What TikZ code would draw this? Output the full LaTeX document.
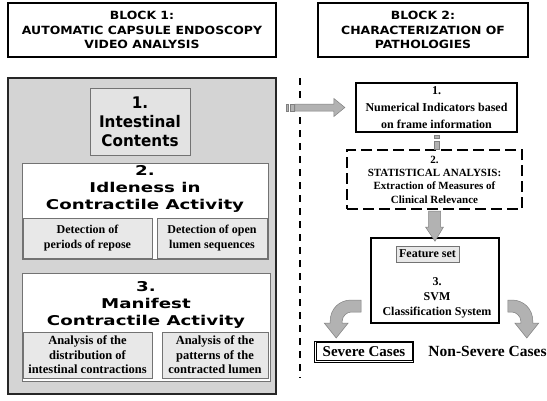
\documentclass[tikz,border=0pt]{standalone}
\usepackage{fontspec}
\setmainfont{Liberation Serif}
\newfontfamily\headfont{DejaVu Sans}[FakeStretch=1.1]
\newfontfamily\titlefont{DejaVu Sans}[FakeStretch=1.35]
\newfontfamily\contfont{DejaVu Sans}[FakeStretch=0.95]
\usetikzlibrary{calc,positioning}

\begin{document}
\begin{tikzpicture}[x=1pt, y=-1pt,
    headbox/.style={draw, line width=1.3pt, fill=white, inner sep=0pt,
        minimum height=54pt, align=center,
        font=\headfont\bfseries\fontsize{11.3}{14.5}\selectfont},
    blockbg/.style={draw=black!85, line width=1.8pt, fill=black!17, inner sep=0pt},
    whitebox/.style={draw=black!55, line width=0.6pt, fill=white, inner sep=0pt},
    graybox/.style={draw=black!55, line width=0.6pt, fill=black!9, inner sep=0pt,
        align=center, font=\bfseries\fontsize{12}{15}\selectfont},
    bigtitle/.style={align=center, inner sep=0pt,
        font=\titlefont\bfseries\fontsize{13.5}{17}\selectfont},
    stepbox/.style={draw, fill=white, inner sep=0pt, align=center,
        font=\bfseries\fontsize{12}{17}\selectfont},
    garrow/.style={draw=black!50, fill=black!30, line width=0.5pt},
]
    \fill[white] (0,0) rectangle (547,400);
    \useasboundingbox (0,0) rectangle (547,400);

    % headers
    \node[headbox, minimum width=268pt] (headA) at (142,30)
        {BLOCK 1:\\AUTOMATIC CAPSULE ENDOSCOPY\\VIDEO ANALYSIS};
    \node[headbox, minimum width=210pt] (headB) at (423,30)
        {BLOCK 2:\\CHARACTERIZATION OF\\PATHOLOGIES};

    % block 1
    \node[blockbg, minimum width=268pt, minimum height=316pt] (blockA) at (142,236) {};
    \node[graybox, fill=black!11, minimum width=100pt, minimum height=67pt,
        font=\contfont\bfseries\fontsize{16}{19}\selectfont] (intest) at (140,121.5)
        {1.\\Intestinal\\Contents};

    \node[whitebox, minimum width=246pt, minimum height=96pt] (idle) at (145,211) {};
    \node[bigtitle] (idleT) at ($(idle.north)+(0,26)$) {2.\\Idleness in\\Contractile Activity};
    \node[graybox, minimum width=129pt, minimum height=40pt] (repose) at (87.5,238)
        {Detection of\\periods of repose};
    \node[graybox, minimum width=110pt, minimum height=40pt] (lumen) at (212,238)
        {Detection of open\\lumen sequences};

    \node[whitebox, minimum width=248pt, minimum height=108pt] (manif) at (146,327) {};
    \node[bigtitle] (manifT) at ($(manif.north)+(0,32)$) {3.\\Manifest\\Contractile Activity};
    \node[graybox, minimum width=129pt, minimum height=46pt,
        font=\bfseries\fontsize{12.5}{14.5}\selectfont] (distr) at (87.5,355)
        {Analysis of the\\distribution of\\intestinal contractions};
    \node[graybox, minimum width=106pt, minimum height=46pt,
        font=\bfseries\fontsize{12.5}{14.5}\selectfont] (patt) at (215,355)
        {Analysis of the\\patterns of the\\contracted lumen};

    % separator
    \draw[line width=1.5pt, dash pattern=on 7pt off 6pt] (300,78) -- (300,378);

    % block 2
    \node[stepbox, line width=1.2pt, minimum width=161pt, minimum height=49pt] (numind)
        at (436.5,107.5) {1.\\Numerical Indicators based\\on frame information};
    \node[stepbox, line width=2pt, dash pattern=on 11pt off 5pt, minimum width=175pt,
        minimum height=59pt, font=\bfseries\fontsize{11}{13.3}\selectfont] (stat)
        at (434.5,179.5) {2.\\STATISTICAL ANALYSIS:\\Extraction of Measures of\\Clinical Relevance};
    \node[stepbox, line width=1.6pt, minimum width=128pt, minimum height=85pt] (svm)
        at (435,280.5) {};
    \node[graybox, minimum width=63pt, minimum height=16pt] (feat) at (427.5,254) {Feature set};
    \node[align=center, inner sep=0pt, font=\bfseries\fontsize{12}{15}\selectfont] (svmT)
        at (437,298) {3.\\SVM\\Classification System};

    \node[draw, line width=0.8pt, minimum width=99pt, minimum height=21pt, inner sep=0pt,
        font=\bfseries\fontsize{15}{17}\selectfont] (severe) at (364,351.5) {Severe Cases};
    \draw[line width=0.8pt] ([shift={(2,2)}]severe.north west)
        rectangle ([shift={(-2,-2)}]severe.south east);
    \node[inner sep=0pt, font=\bfseries\fontsize{15.5}{17}\selectfont] (nonsev)
        at (487.5,351) {Non-Severe Cases};

    % arrow block 1 -> block 2
    \coordinate (arA) at ($(blockA.east |- numind.west)+(9,0)$);
    \draw[garrow] ($(arA)+(0,-3.5)$) rectangle ++(2,7);
    \draw[garrow] ($(arA)+(4,-3.5)$) rectangle ++(4,7);
    \draw[garrow] ($(arA)+(9,-3.5)$) -- ++(39,0) -- ++(0,-5.5) -- ++(11,9)
        -- ++(-11,9) -- ++(0,-5.5) -- ++(-39,0) -- cycle;

    % 1 -> 2
    \coordinate (ds) at ($(numind.south)+(0,3)$);
    \draw[garrow] ($(ds)+(-2.5,0)$) rectangle ++(5,3);
    \draw[garrow] ($(ds)+(-2.5,6)$) rectangle ++(5,8);

    % 2 -> 3
    \draw[garrow] ($(stat.south)+(-6,1)$) -- ++(0,16) -- ++(-3,0) -- ($(svm.north)+(0,4)$)
        -- ($(stat.south)+(9,17)$) -- ++(-3,0) -- ++(0,-16) -- cycle;

    % 3 -> severe / non-severe
    \coordinate (cl) at ($(svm.west)+(-9,19.5)$);
    \draw[garrow] (cl) -- ++(-10,0) coordinate (c1) .. controls +(-12,0) and +(0,-12) ..
        ($(c1)+(-21,21)$) -- ++(0,2) -- ++(-6,0) -- ++(12,15) -- ++(12,-15) -- ++(-6,0)
        -- ++(0,-2) .. controls +(0,-5) and +(-4,0) .. ($(cl)+(-10,12)$)
        -- ($(cl)+(0,12)$) -- cycle;
    \coordinate (cr) at ($(svm.east)+(8,19.5)$);
    \draw[garrow] (cr) -- ++(4,0) coordinate (c2) .. controls +(12,0) and +(0,-12) ..
        ($(c2)+(21,21)$) -- ++(0,2) -- ++(6,0) -- ++(-12,15) -- ++(-12,-15) -- ++(6,0)
        -- ++(0,-2) .. controls +(0,-5) and +(4,0) .. ($(cr)+(4,12)$)
        -- ($(cr)+(0,12)$) -- cycle;
\end{tikzpicture}
\end{document}
